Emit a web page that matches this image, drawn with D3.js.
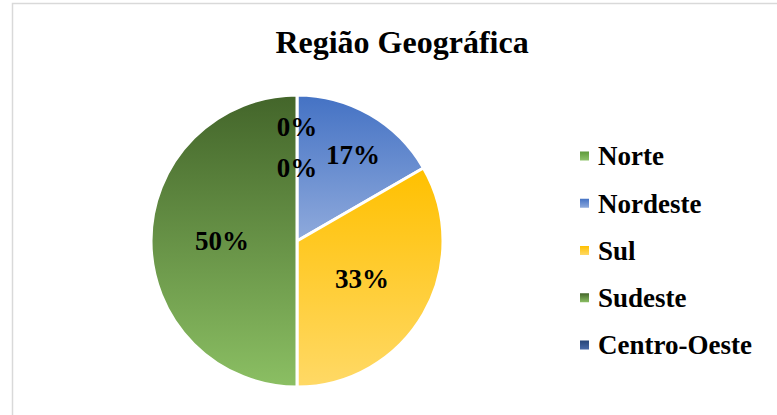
<!DOCTYPE html>
<html>
<head>
<meta charset="utf-8">
<script src="https://cdn.jsdelivr.net/npm/d3@7"></script>
<style>
  body { margin: 0; background: #fff; }
  svg { display: block; font-family: "Liberation Serif", "Times New Roman", serif; }
</style>
</head>
<body>
<div id="chart"></div>
<script>
// dados do grafico
const regioes = ["Norte", "Nordeste", "Sul", "Sudeste", "Centro-Oeste"];
const quantidades = [0, 1, 2, 3, 0];
const rotulos = ["0%", "17%", "33%", "50%", "0%"];
const coresTopo = ["#5e9a3a", "#4472c4", "#ffc000", "#43652a", "#264478"];
const coresBase = ["#8ec36a", "#8faadc", "#ffd966", "#8bbf63", "#4a6aa8"];

const width = 777, height = 415;
const cx = 297, cy = 241, raio = 146;

const svg = d3.select("#chart").append("svg")
  .attr("width", width)
  .attr("height", height);

// moldura do grafico
svg.append("rect")
  .attr("x", 12.5).attr("y", 3.5)
  .attr("width", 780).attr("height", 420)
  .attr("fill", "#fff")
  .attr("stroke", "#d9d9d9")
  .attr("stroke-width", 1.5);

// gradientes
const defs = svg.append("defs");
regioes.forEach(function(r, i) {
  const g = defs.append("linearGradient")
    .attr("id", "grad" + i)
    .attr("x1", 0).attr("y1", 0).attr("x2", 0).attr("y2", 1);
  g.append("stop").attr("offset", "0%").attr("stop-color", coresTopo[i]);
  g.append("stop").attr("offset", "100%").attr("stop-color", coresBase[i]);
});

// titulo
svg.append("text")
  .attr("x", 402).attr("y", 53)
  .attr("text-anchor", "middle")
  .style("font-size", "32px")
  .style("font-weight", "bold")
  .text("Região Geográfica");

const dados = regioes.map(function(r, i) { return {nome: r, valor: quantidades[i], rotulo: rotulos[i], i: i}; });

const pie = d3.pie().value(function(d) { return d.valor; }).sort(null);
const arc = d3.arc().innerRadius(0).outerRadius(raio);
const arcos = pie(dados);

const g = svg.append("g").attr("transform", "translate(" + cx + "," + cy + ")");

g.selectAll("path")
  .data(arcos.filter(function(d) { return d.data.valor > 0; }))
  .enter().append("path")
  .attr("d", arc)
  .attr("fill", function(d) { return "url(#grad" + d.data.i + ")"; })
  .attr("stroke", "#fff")
  .attr("stroke-width", 3)
  .attr("stroke-linejoin", "round");

// rotulos: Excel afasta os rotulos pequenos para nao sobrepor
function raioRotulo(d) {
  if (d.data.valor === 0) return d.index === 0 ? 114 : 73;
  if (d.endAngle - d.startAngle < 1.2) return 100;
  return 75;
}
g.selectAll(".rot")
  .data(arcos)
  .enter().append("text")
  .attr("class", "rot")
  .attr("transform", function(d) {
    const r = raioRotulo(d);
    const c = d3.arc().innerRadius(r).outerRadius(r).centroid(d);
    const dx = (d.data.valor > 0 && d.endAngle - d.startAngle < 1.2) ? 6 : 0;
    return "translate(" + (c[0] + dx) + "," + c[1] + ")";
  })
  .attr("text-anchor", "middle")
  .attr("dy", "0.35em")
  .style("font-size", "27px")
  .style("font-weight", "bold")
  .text(function(d) { return d.data.rotulo; });

// legenda
const y = d3.scalePoint().domain(regioes).range([156, 345]);
const leg = svg.append("g").selectAll("g")
  .data(dados)
  .enter().append("g")
  .attr("transform", function(d) { return "translate(580," + y(d.nome) + ")"; });

leg.append("rect")
  .attr("x", 0).attr("y", -4.5)
  .attr("width", 9).attr("height", 9)
  .attr("fill", function(d) { return "url(#grad" + d.i + ")"; });

leg.append("text")
  .attr("x", 18)
  .attr("dy", "0.35em")
  .style("font-size", "27px")
  .style("font-weight", "bold")
  .text(function(d) { return d.nome; });
</script>
</body>
</html>
